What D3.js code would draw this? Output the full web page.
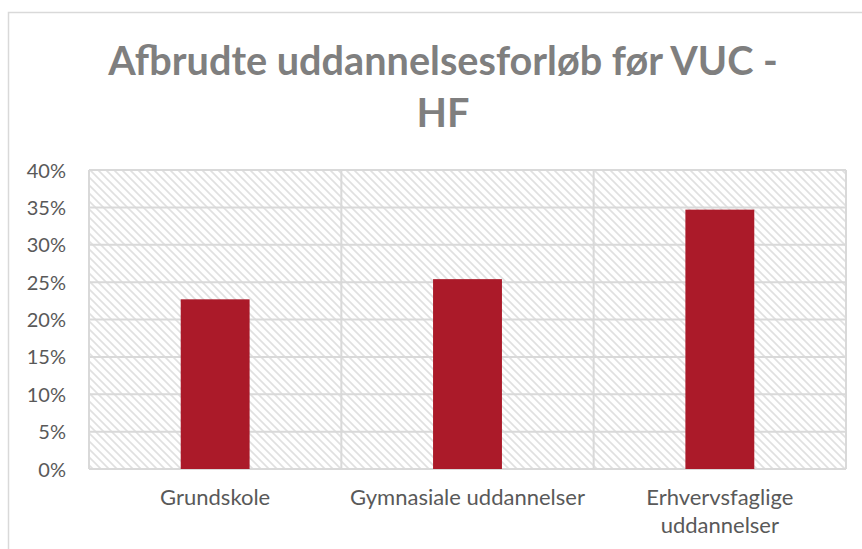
<!DOCTYPE html>
<html>
<head>
<meta charset="utf-8">
<title>Afbrudte uddannelsesforløb før VUC - HF</title>
<script src="https://d3js.org/d3.v7.min.js"></script>
<style>
  body { margin: 0; background: #fff; }
  svg { display: block; }
  .tick-label { font-family: Lato, "Open Sans", sans-serif; font-size: 20px; fill: #595959; }
  .cat-label { font-family: Lato, "Open Sans", sans-serif; font-size: 22px; fill: #595959; }
  .title { font-family: Lato, "Open Sans", sans-serif; font-weight: bold; fill: #7f7f7f; }
</style>
</head>
<body>
<div id="chart"></div>
<script>
// data
var categories = ["Grundskole", "Gymnasiale uddannelser", "Erhvervsfaglige uddannelser"];
var categoryLines = [["Grundskole"], ["Gymnasiale uddannelser"], ["Erhvervsfaglige", "uddannelser"]];
var values = [0.227, 0.254, 0.347];
var yTicks = [0, 0.05, 0.10, 0.15, 0.20, 0.25, 0.30, 0.35, 0.40];
var titleLines = ["Afbrudte uddannelsesforløb før VUC -", "HF"];

var W = 862, H = 549;
var plot = { left: 89, right: 846, top: 170, bottom: 469 };

var svg = d3.select("#chart").append("svg")
    .attr("width", W)
    .attr("height", H);

// hatch pattern (wide downward diagonal)
var defs = svg.append("defs");
var pat = defs.append("pattern")
    .attr("id", "hatch")
    .attr("patternUnits", "userSpaceOnUse")
    .attr("width", 8)
    .attr("height", 8);
pat.append("rect").attr("width", 8).attr("height", 8).attr("fill", "#fff");
pat.append("path")
    .attr("d", "M-2,-2 L10,10 M-2,6 L2,10 M6,-2 L10,2")
    .attr("stroke", "#e0e0e0")
    .attr("stroke-width", 1.6);

// outer chart border
svg.append("rect")
    .attr("x", 8.5).attr("y", 12.5)
    .attr("width", W).attr("height", H)
    .attr("fill", "none")
    .attr("stroke", "#d9d9d9")
    .attr("stroke-width", 1.5);

// title
var title = svg.append("text")
    .attr("class", "title")
    .attr("text-anchor", "middle");
title.selectAll("tspan")
    .data(titleLines)
    .enter().append("tspan")
    .attr("x", 443)
    .attr("y", function(d, i) { return 75 + i * 52; })
    .text(function(d) { return d; });
// size the title to the width of the first line in the picture
title.style("font-size", "36px");
var w0 = title.select("tspan").node().getComputedTextLength();
title.style("font-size", (36 * 670 / w0) + "px");

// scales
var x = d3.scaleBand()
    .domain(categories)
    .range([plot.left, plot.right])
    .padding(0);

var y = d3.scaleLinear()
    .domain([0, 0.40])
    .range([plot.bottom, plot.top]);

// plot area
svg.append("rect")
    .attr("x", plot.left).attr("y", plot.top)
    .attr("width", plot.right - plot.left)
    .attr("height", plot.bottom - plot.top)
    .attr("fill", "url(#hatch)");

// horizontal gridlines
svg.append("g").selectAll("line")
    .data(yTicks)
    .enter().append("line")
    .attr("x1", plot.left).attr("x2", plot.right)
    .attr("y1", function(d) { return y(d); })
    .attr("y2", function(d) { return y(d); })
    .attr("stroke", "#d9d9d9")
    .attr("stroke-width", 2);

// vertical lines between categories
var vlines = [plot.left].concat(categories.map(function(c) { return x(c) + x.bandwidth(); }));
svg.append("g").selectAll("line")
    .data(vlines)
    .enter().append("line")
    .attr("x1", function(d) { return d; })
    .attr("x2", function(d) { return d; })
    .attr("y1", plot.top).attr("y2", plot.bottom)
    .attr("stroke", "#d9d9d9")
    .attr("stroke-width", 2);

// bars
var barW = x.bandwidth() * 0.273;
svg.append("g").selectAll("rect")
    .data(values)
    .enter().append("rect")
    .attr("x", function(d, i) { return x(categories[i]) + x.bandwidth() / 2 - barW / 2; })
    .attr("y", function(d) { return y(d); })
    .attr("width", barW)
    .attr("height", function(d) { return y(0) - y(d); })
    .attr("fill", "#ab1a29");

// y axis labels
var yAxis = d3.axisLeft(y)
    .tickValues(yTicks)
    .tickFormat(d3.format(".0%"))
    .tickSize(0)
    .tickPadding(0);
var ya = svg.append("g")
    .attr("transform", "translate(66,0)")
    .call(yAxis);
ya.select(".domain").remove();
ya.selectAll("text")
    .attr("class", "tick-label")
    .attr("font-family", null)
    .attr("font-size", null)
    .attr("fill", null)
    .attr("dy", "0.35em");

// x category labels
var xl = svg.append("g").selectAll("text")
    .data(categoryLines)
    .enter().append("text")
    .attr("class", "cat-label")
    .attr("text-anchor", "middle");
xl.selectAll("tspan")
    .data(function(d, i) { return d.map(function(t) { return { t: t, c: categories[i] }; }); })
    .enter().append("tspan")
    .attr("x", function(d) { return x(d.c) + x.bandwidth() / 2; })
    .attr("y", function(d, j) { return 505 + j * 28; })
    .text(function(d) { return d.t; });
</script>
</body>
</html>
